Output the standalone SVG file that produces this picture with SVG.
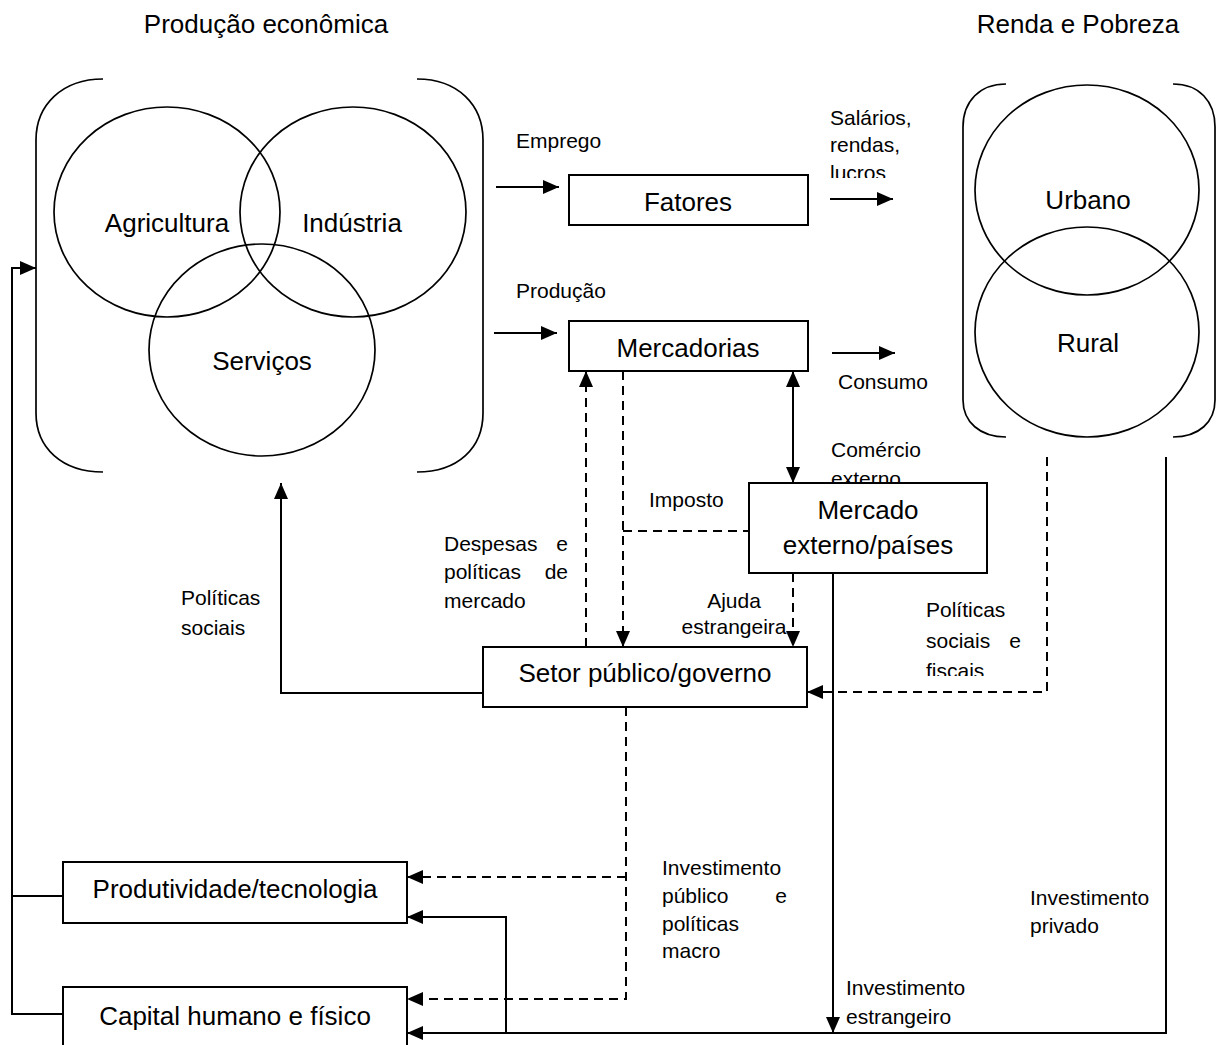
<svg xmlns="http://www.w3.org/2000/svg" width="1219" height="1045" viewBox="0 0 1219 1045">
<style>
text{font-family:"Liberation Sans",Arial,sans-serif;fill:#000}
.node{font-size:26px;text-anchor:middle}
.title{font-size:26px;text-anchor:middle}
.lbl{font-size:21px}
.box{fill:#fff;stroke:#000;stroke-width:2}
.circ{fill:none;stroke:#000;stroke-width:1.7}
.brk{fill:none;stroke:#000;stroke-width:1.7}
.ln{fill:none;stroke:#000;stroke-width:2}
.dsh{fill:none;stroke:#000;stroke-width:2;stroke-dasharray:9,6}
.arr{marker-end:url(#ah)}
</style>
<defs>
<marker id="ah" viewBox="0 0 16 14" refX="16" refY="7" markerWidth="16" markerHeight="14" markerUnits="userSpaceOnUse" orient="auto-start-reverse">
<path d="M0,0 L16,7 L0,14 z" fill="#000"/>
</marker>
<clipPath id="clipLucros"><rect x="820" y="100" width="120" height="78"/></clipPath>
<clipPath id="clipExterno"><rect x="820" y="430" width="120" height="53"/></clipPath>
<clipPath id="clipFiscais"><rect x="900" y="590" width="140" height="86"/></clipPath>
</defs>
<rect width="1219" height="1045" fill="#fff"/>

<g id="producao-economica">
<text class="title" x="266" y="33">Produção econômica</text>
<path class="brk" d="M103,79 C62,79 36,105 36,140 L36,413 C36,448 62,472 103,472"/>
<path class="brk" d="M417,79 C458,79 483,105 483,140 L483,413 C483,448 458,472 417,472"/>
<g id="agricultura"><ellipse class="circ" cx="167" cy="212" rx="113" ry="105"/><text class="node" x="167" y="232">Agricultura</text></g>
<g id="industria"><ellipse class="circ" cx="353" cy="212" rx="113" ry="105"/><text class="node" x="352" y="232">Indústria</text></g>
<g id="servicos"><ellipse class="circ" cx="262" cy="350" rx="113" ry="106"/><text class="node" x="262" y="370">Serviços</text></g>
</g>

<g id="renda-pobreza">
<text class="title" x="1078" y="33">Renda e Pobreza</text>
<path class="brk" d="M1006,84 C980,84 963,101 963,127 L963,400 C963,422 980,437 1006,437"/>
<path class="brk" d="M1173,84 C1199,84 1215,101 1215,127 L1215,400 C1215,422 1199,437 1173,437"/>
<g id="urbano"><ellipse class="circ" cx="1087" cy="190" rx="112" ry="105"/><text class="node" x="1088" y="209">Urbano</text></g>
<g id="rural"><ellipse class="circ" cx="1087" cy="332" rx="112" ry="105"/><text class="node" x="1088" y="352">Rural</text></g>
</g>

<g id="connectors">
<path class="ln arr" d="M496,187 H559"/>
<path class="ln arr" d="M830,199 H893"/>
<path class="ln arr" d="M494,333 H557"/>
<path class="ln arr" d="M832,353 H895"/>
<path class="dsh arr" d="M586,647 V371"/>
<path class="dsh arr" d="M623,371 V647"/>
<path class="dsh" d="M623,531 H749"/>
<path class="ln arr" d="M793,371 V483" marker-start="url(#ah)"/>
<path class="dsh arr" d="M793,573 V647"/>
<path class="ln arr" d="M833,573 V1033"/>
<path class="dsh arr" d="M1047,457 V692 H807"/>
<path class="ln arr" d="M1166,457 V1033 H407"/>
<path class="ln arr" d="M506,1033 V917 H407"/>
<path class="dsh arr" d="M626,707 V999 H407"/>
<path class="dsh arr" d="M626,877 H407"/>
<path class="ln arr" d="M483,693 H281 V483"/>
<path class="ln" d="M63,896 H12"/>
<path class="ln arr" d="M63,1014 H12 V268 H36"/>
</g>

<g id="fatores"><rect class="box" x="569" y="175" width="239" height="50"/><text class="node" x="688" y="211">Fatores</text></g>
<g id="mercadorias"><rect class="box" x="569" y="321" width="239" height="50"/><text class="node" x="688" y="357">Mercadorias</text></g>
<g id="mercado-externo"><rect class="box" x="749" y="483" width="238" height="90"/><text class="node" x="868" y="519">Mercado</text><text class="node" x="868" y="554">externo/países</text></g>
<g id="setor-publico"><rect class="box" x="483" y="647" width="324" height="60"/><text class="node" x="645" y="682">Setor público/governo</text></g>
<g id="produtividade"><rect class="box" x="63" y="862" width="344" height="61"/><text class="node" x="235" y="898">Produtividade/tecnologia</text></g>
<g id="capital"><rect class="box" x="63" y="987" width="344" height="70"/><text class="node" x="235" y="1025">Capital humano e físico</text></g>

<g id="labels">
<text class="lbl" x="516" y="148">Emprego</text>
<text class="lbl" x="830" y="125">Salários,</text>
<text class="lbl" x="830" y="152">rendas,</text>
<text class="lbl" x="830" y="180" clip-path="url(#clipLucros)">lucros</text>
<text class="lbl" x="516" y="298">Produção</text>
<text class="lbl" x="838" y="389">Consumo</text>
<text class="lbl" x="831" y="457">Comércio</text>
<text class="lbl" x="831" y="486" clip-path="url(#clipExterno)">externo</text>
<text class="lbl" x="649" y="507">Imposto</text>
<text class="lbl" x="444" y="551">Despesas</text><text class="lbl" x="568" y="551" text-anchor="end">e</text>
<text class="lbl" x="444" y="579">políticas</text><text class="lbl" x="568" y="579" text-anchor="end">de</text>
<text class="lbl" x="444" y="608">mercado</text>
<text class="lbl" x="734" y="608" text-anchor="middle">Ajuda</text>
<text class="lbl" x="734" y="634" text-anchor="middle">estrangeira</text>
<text class="lbl" x="181" y="605">Políticas</text>
<text class="lbl" x="181" y="635">sociais</text>
<text class="lbl" x="926" y="617">Políticas</text>
<text class="lbl" x="926" y="648">sociais</text><text class="lbl" x="1021" y="648" text-anchor="end">e</text>
<text class="lbl" x="926" y="678" clip-path="url(#clipFiscais)">fiscais</text>
<text class="lbl" x="662" y="875">Investimento</text>
<text class="lbl" x="662" y="903">público</text><text class="lbl" x="787" y="903" text-anchor="end">e</text>
<text class="lbl" x="662" y="931">políticas</text>
<text class="lbl" x="662" y="958">macro</text>
<text class="lbl" x="1030" y="905">Investimento</text>
<text class="lbl" x="1030" y="933">privado</text>
<text class="lbl" x="846" y="995">Investimento</text>
<text class="lbl" x="846" y="1024">estrangeiro</text>
</g>
</svg>
